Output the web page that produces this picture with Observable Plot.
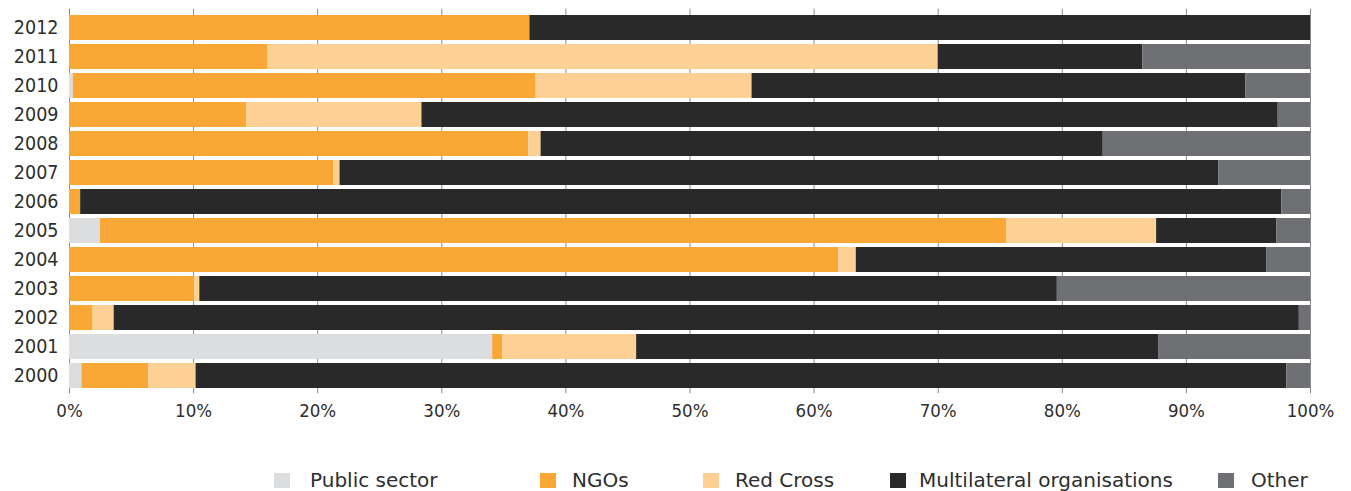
<!DOCTYPE html>
<html>
<head>
<meta charset="utf-8">
<script src="https://cdn.jsdelivr.net/npm/d3@7"></script>
<script src="https://cdn.jsdelivr.net/npm/@observablehq/plot@0.6"></script>
<style>
  html, body { margin: 0; padding: 0; background: #fff; }
  body { width: 1351px; height: 491px; overflow: hidden; font-family: "DejaVu Sans Condensed", "DejaVu Sans", sans-serif; }
  #chart svg { display: block; }
  #legend { position: relative; height: 51px; width: 1351px; }
  .item { position: absolute; top: 29px; height: 22px; display: flex; align-items: center; font-family: "DejaVu Sans", sans-serif; font-size: 20px; color: #2e2e2e; white-space: nowrap; }
  .sw { width: 16px; height: 15px; display: inline-block; }
</style>
</head>
<body>
<div id="chart"></div>
<div id="legend"></div>
<script>
const years = ["2012","2011","2010","2009","2008","2007","2006","2005","2004","2003","2002","2001","2000"];
const seriesNames = ["Public sector","NGOs","Red Cross","Multilateral organisations","Other"];
const seriesColors = ["#dcdddf","#f9a836","#fdd095","#292929","#6f7073"];

const publicSector  = [0,    0,    0.3,  0,    0,    0,    0,    2.5,  0,    0,    0,    34.1, 1.0];
const ngos          = [37.1, 16.0, 37.3, 14.3, 37.0, 21.3, 0.9,  73.0, 62.0, 10.1, 1.9,  0.8,  5.4];
const redCross      = [0,    54.0, 17.4, 14.1, 1.0,  0.5,  0,    12.1, 1.4,  0.4,  1.7,  10.8, 3.8];
const multilateral  = [62.9, 16.5, 39.8, 69.0, 45.3, 70.8, 96.8, 9.7,  33.1, 69.1, 95.5, 42.1, 87.9];
const other         = [0,    13.5, 5.2,  2.6,  16.7, 7.4,  2.3,  2.7,  3.5,  20.4, 0.9,  12.2, 1.9];

const xTicks = [0,10,20,30,40,50,60,70,80,90,100];

const seriesValues = [publicSector, ngos, redCross, multilateral, other];
const rows = [];
years.forEach((yr, i) => {
  seriesNames.forEach((s, j) => {
    rows.push({year: yr, series: s, value: seriesValues[j][i]});
  });
});

const font = "'DejaVu Sans Condensed', 'DejaVu Sans', sans-serif";

const chart = Plot.plot({
  width: 1351,
  height: 440,
  marginLeft: 69,
  marginRight: 41,
  marginTop: 8.6,
  marginBottom: 46.8,
  style: {fontFamily: font, fontSize: "19px", color: "#2e2e2e", background: "#fff"},
  x: {domain: [0, 100], ticks: xTicks, label: null},
  y: {domain: years, padding: 0.15, label: null},
  color: {domain: seriesNames, range: seriesColors},
  marks: [
    Plot.gridX(xTicks, {stroke: "#8a8a8a", strokeOpacity: 1, strokeWidth: 1}),
    Plot.barX(rows, Plot.stackX({x: "value", y: "year", z: "series", fill: "series", order: seriesNames})),
    Plot.axisX({ticks: xTicks, tickSize: 0, tickPadding: 10, tickFormat: d => d + "%", fontSize: 18.5, fill: "#2e2e2e", label: null}),
    Plot.axisY({tickSize: 0, tickPadding: 11, fontSize: 19.5, fill: "#2e2e2e", label: null})
  ]
});
document.getElementById("chart").appendChild(chart);

const legendLeft = [274, 540, 703, 890, 1218];
const textGap = [36, 32, 32, 29, 33];
const legend = document.getElementById("legend");
seriesNames.forEach((s, i) => {
  const sw = document.createElement("div");
  sw.className = "item";
  sw.style.left = legendLeft[i] + "px";
  sw.innerHTML = `<span class="sw" style="background:${seriesColors[i]}"></span><span style="margin-left:${textGap[i] - 16}px">${s}</span>`;
  legend.appendChild(sw);
});
</script>
</body>
</html>
